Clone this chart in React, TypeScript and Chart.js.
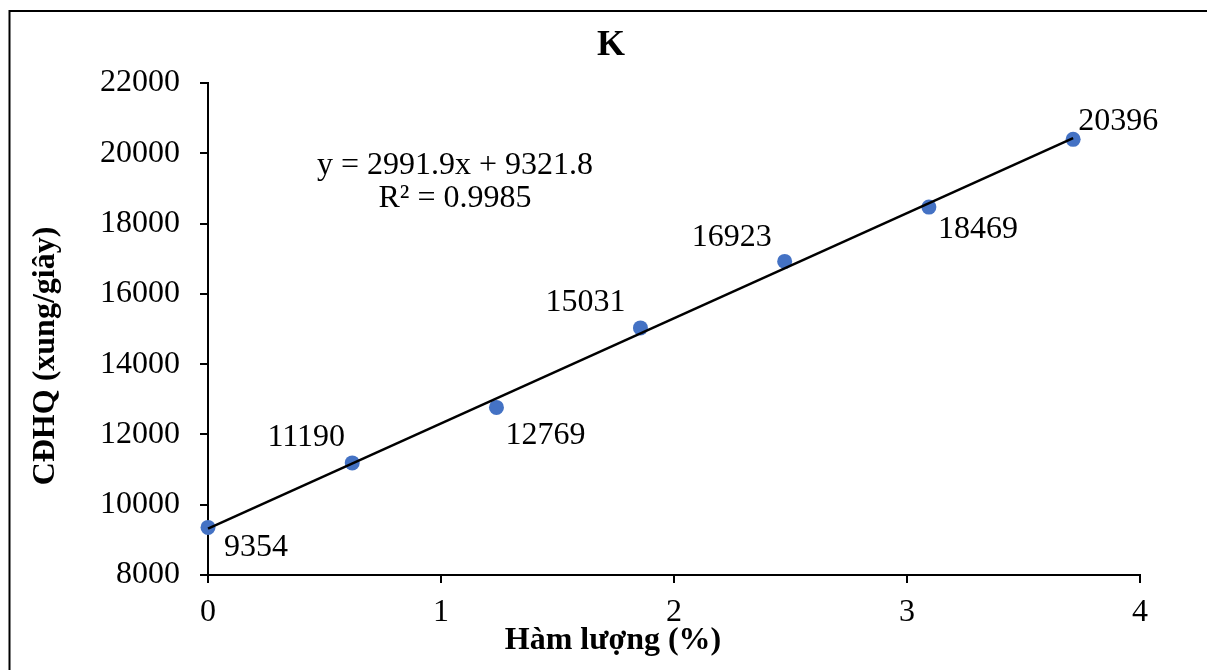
import React, { useEffect, useRef } from "react";
import { Chart, registerables } from "chart.js";

Chart.register(...registerables);

// ---- data ----
const contentX = [0, 0.619, 1.238, 1.856, 2.475, 3.094, 3.713];
const intensityY = [9354, 11190, 12769, 15031, 16923, 18469, 20396];
const pointLabels = ["9354", "11190", "12769", "15031", "16923", "18469", "20396"];
const trendSlope = 2991.9;
const trendIntercept = 9321.8;
const equationLines = ["y = 2991.9x + 9321.8", "R² = 0.9985"];
const chartTitle = "K";
const xAxisTitle = "Hàm lượng (%)";
const yAxisTitle = "CĐHQ (xung/giây)";
const xMin = 0;
const xMax = 4;
const xStep = 1;
const yMin = 8000;
const yMax = 22000;
const yStep = 2000;

// label placement (pixel offsets of label centre from its point)
const labelOffsets: [number, number][] = [
  [48, 20],
  [-46, -25],
  [49, 28],
  [-55, -25],
  [-53, -24],
  [49, 23],
  [45, -18],
];

const FONT = "'Liberation Serif', 'Times New Roman', serif";
const FS = 32;

const overlayPlugin = {
  id: "overlay",
  beforeDraw(chart: any) {
    const ctx = chart.ctx;
    ctx.save();
    ctx.strokeStyle = "#000";
    ctx.lineWidth = 2;
    ctx.beginPath();
    ctx.moveTo(9.5, chart.height + 10);
    ctx.lineTo(9.5, 11);
    ctx.lineTo(chart.width + 10, 11);
    ctx.stroke();
    ctx.restore();
  },
  afterDatasetsDraw(chart: any) {
    const ctx = chart.ctx;
    const area = chart.chartArea;
    ctx.save();
    ctx.fillStyle = "#000";
    ctx.font = `${FS}px ${FONT}`;
    ctx.textAlign = "center";
    ctx.textBaseline = "middle";
    const meta = chart.getDatasetMeta(1);
    meta.data.forEach((el: any, i: number) => {
      const [dx, dy] = labelOffsets[i];
      ctx.fillText(pointLabels[i], el.x + dx, el.y + dy);
    });
    // trendline equation
    const ex = area.left + 247;
    ctx.fillText(equationLines[0], ex, area.top + 83);
    ctx.fillText(equationLines[1], ex, area.top + 116);
    ctx.restore();
  },
  afterDraw(chart: any) {
    const ctx = chart.ctx;
    ctx.save();
    ctx.fillStyle = "#000";
    ctx.textAlign = "center";
    ctx.textBaseline = "middle";
    ctx.font = `bold 36px ${FONT}`;
    ctx.fillText(chartTitle, 611, 46);
    ctx.font = `bold ${FS}px ${FONT}`;
    ctx.fillText(xAxisTitle, 613, 641);
    ctx.translate(46, 356);
    ctx.rotate(-Math.PI / 2);
    ctx.fillText(yAxisTitle, 0, 0);
    ctx.restore();
  },
};

export default function App() {
  const canvasRef = useRef<HTMLCanvasElement | null>(null);

  useEffect(() => {
    document.body.style.overflow = "hidden";
    const canvas = canvasRef.current;
    if (!canvas) return;

    const points = contentX.map((x, i) => ({ x, y: intensityY[i] }));
    const xStart = contentX[0];
    const xEnd = contentX[contentX.length - 1];
    const trend = [
      { x: xStart, y: trendSlope * xStart + trendIntercept },
      { x: xEnd, y: trendSlope * xEnd + trendIntercept },
    ];

    const tickFont = { family: FONT, size: FS };

    const chart = new Chart(canvas, {
      type: "scatter",
      data: {
        datasets: [
          {
            label: "Linear",
            data: trend,
            showLine: true,
            borderColor: "#000",
            borderWidth: 2.5,
            pointRadius: 0,
            clip: false,
            order: 0,
          } as any,
          {
            label: "K",
            data: points,
            backgroundColor: "#4472C4",
            borderColor: "#4472C4",
            pointRadius: 7.5,
            pointBorderWidth: 0,
            clip: false,
            order: 1,
          } as any,
        ],
      },
      options: {
        animation: false,
        responsive: true,
        maintainAspectRatio: false,
        events: [],
        layout: { padding: { left: 0, right: 67, top: 83, bottom: 0 } },
        plugins: {
          legend: { display: false },
          tooltip: { enabled: false },
          title: { display: false },
        },
        scales: {
          x: {
            type: "linear",
            min: xMin,
            max: xMax,
            ticks: {
              stepSize: xStep,
              color: "#000",
              font: tickFont,
              padding: 10,
              callback: (v: any) => String(v),
            },
            grid: {
              drawOnChartArea: false,
              drawTicks: true,
              tickLength: 8,
              color: "#000",
              lineWidth: 2,
            },
            border: { display: true, color: "#000", width: 2 },
            afterFit: (s: any) => {
              s.height = 95;
            },
          },
          y: {
            type: "linear",
            min: yMin,
            max: yMax,
            ticks: {
              stepSize: yStep,
              color: "#000",
              font: tickFont,
              padding: 20,
              callback: (v: any) => String(v),
            },
            grid: {
              drawOnChartArea: false,
              drawTicks: true,
              tickLength: 8,
              color: "#000",
              lineWidth: 2,
            },
            border: { display: true, color: "#000", width: 2 },
            afterFit: (s: any) => {
              s.width = 208;
            },
          },
        },
      } as any,
      plugins: [overlayPlugin],
    });

    return () => chart.destroy();
  }, []);

  return (
    <div
      style={{
        position: "fixed",
        left: 0,
        top: 0,
        width: 1207,
        height: 670,
        overflow: "hidden",
        background: "#fff",
      }}
    >
      <canvas ref={canvasRef} />
    </div>
  );
}
